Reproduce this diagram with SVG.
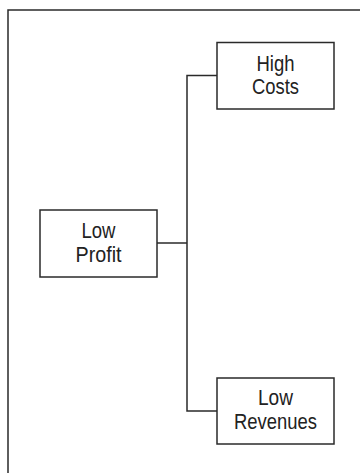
<svg xmlns="http://www.w3.org/2000/svg" width="360" height="473" viewBox="0 0 360 473">
  <style>
    .frame { fill: none; stroke: #2a2a2a; stroke-width: 1.5; }
    .box { fill: #ffffff; stroke: #2a2a2a; stroke-width: 1.5; }
    .link { fill: none; stroke: #2a2a2a; stroke-width: 1.5; }
    .label { font-family: "Liberation Sans", Arial, sans-serif; font-size: 21.5px; fill: #222222; text-anchor: middle; }
  </style>
  <rect width="360" height="473" fill="#ffffff"/>
  <!-- page frame -->
  <path class="frame" d="M8,473 V10 H360"/>

  <!-- tree connectors -->
  <g id="connectors">
    <path class="link" d="M157,243 H187"/>
    <path class="link" d="M217,75.5 H187 V411 H217"/>
  </g>

  <g id="low-profit">
    <rect class="box" x="40" y="210" width="117" height="67"/>
    <text class="label" x="98.5" y="238" textLength="34" lengthAdjust="spacingAndGlyphs">Low</text>
    <text class="label" x="98.5" y="262" textLength="46" lengthAdjust="spacingAndGlyphs">Profit</text>
  </g>

  <g id="high-costs">
    <rect class="box" x="217" y="42.5" width="117" height="66.5"/>
    <text class="label" x="275.5" y="71" textLength="38" lengthAdjust="spacingAndGlyphs">High</text>
    <text class="label" x="275.5" y="94" textLength="47" lengthAdjust="spacingAndGlyphs">Costs</text>
  </g>

  <g id="low-revenues">
    <rect class="box" x="217" y="378" width="117" height="66"/>
    <text class="label" x="275.5" y="405" textLength="35" lengthAdjust="spacingAndGlyphs">Low</text>
    <text class="label" x="275.5" y="429" textLength="83" lengthAdjust="spacingAndGlyphs">Revenues</text>
  </g>
</svg>
